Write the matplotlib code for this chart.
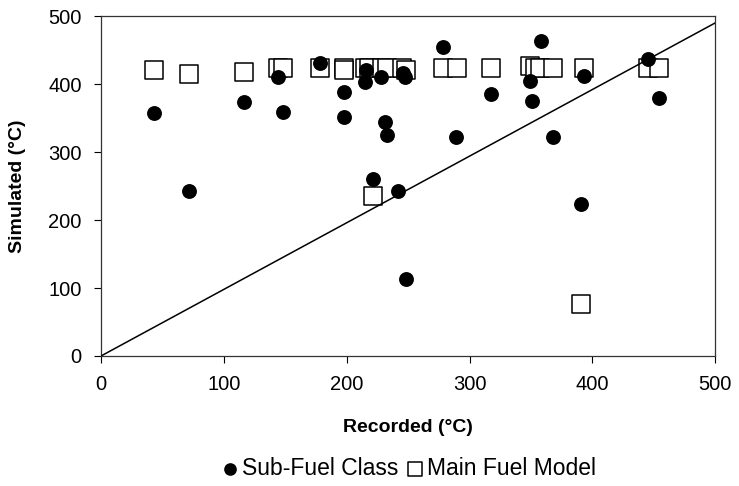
import numpy             as np
import matplotlib.pyplot as plt

plt.rcParams['font.family'] = ['Liberation Sans', 'DejaVu Sans']

# Sub-fuel class: recorded vs simulated temperature (°C)
sub_rec = [43, 72, 116, 144, 148, 178, 198, 198, 215, 216, 221, 228, 231, 233,
           242, 246, 247, 248, 278, 289, 317, 349, 351, 358, 368, 391, 393, 445, 454]
sub_sim = [357, 243, 373, 410, 359, 431, 389, 351, 403, 421, 260, 410, 344, 325,
           243, 416, 411, 113, 455, 322, 386, 404, 375, 463, 322, 224, 412, 437, 380]

# Main fuel model
main_rec = [43, 72, 116, 144, 148, 178, 198, 198, 215, 218, 221, 229, 233, 245, 248,
            278, 290, 317, 349, 353, 357, 368, 391, 393, 445, 454]
main_sim = [420, 415, 418, 423, 423, 423, 424, 420, 423, 423, 235, 423, 423, 423, 421,
            423, 423, 423, 426, 424, 423, 423, 76, 423, 423, 423]

# 1:1 reference line
line_x = [0, 500]
line_y = [0, 490]

fig = plt.figure(figsize=(7.39, 4.86), dpi=100)
ax = fig.add_axes([0.1367, 0.2675, 0.8313, 0.6995])

ax.scatter(main_rec, main_sim, marker='s', s=150, facecolors='white',
           edgecolors='black', linewidths=1.1, zorder=2, label='Main Fuel Model')
ax.scatter(sub_rec, sub_sim, marker='o', s=115, color='black', linewidths=0,
           zorder=3, label='Sub-Fuel Class')
ax.plot(line_x, line_y, color='black', lw=1.1, zorder=4)

ax.set_xlim(0, 500)
ax.set_ylim(0, 500)
ax.set_xticks(np.arange(0, 501, 100))
ax.set_yticks(np.arange(0, 501, 100))
ax.tick_params(direction='out', length=5, width=0.8, labelsize=14.5, pad=9)
for sp in ax.spines.values():
    sp.set_linewidth(0.9)
    sp.set_color('#333333')

ax.set_xlabel('Recorded (°C)', fontsize=14, fontweight='bold', labelpad=18)
ax.set_ylabel('Simulated (°C)', fontsize=14, fontweight='bold', labelpad=16)

h, l = ax.get_legend_handles_labels()
fig.legend([h[1], h[0]], [l[1], l[0]], loc='center', bbox_to_anchor=(0.552, 0.037),
           ncol=2, frameon=False, fontsize=16.5, handletextpad=0.05,
           columnspacing=0.3, handlelength=0.9, markerscale=0.85)

plt.savefig('out.png', dpi=100)
